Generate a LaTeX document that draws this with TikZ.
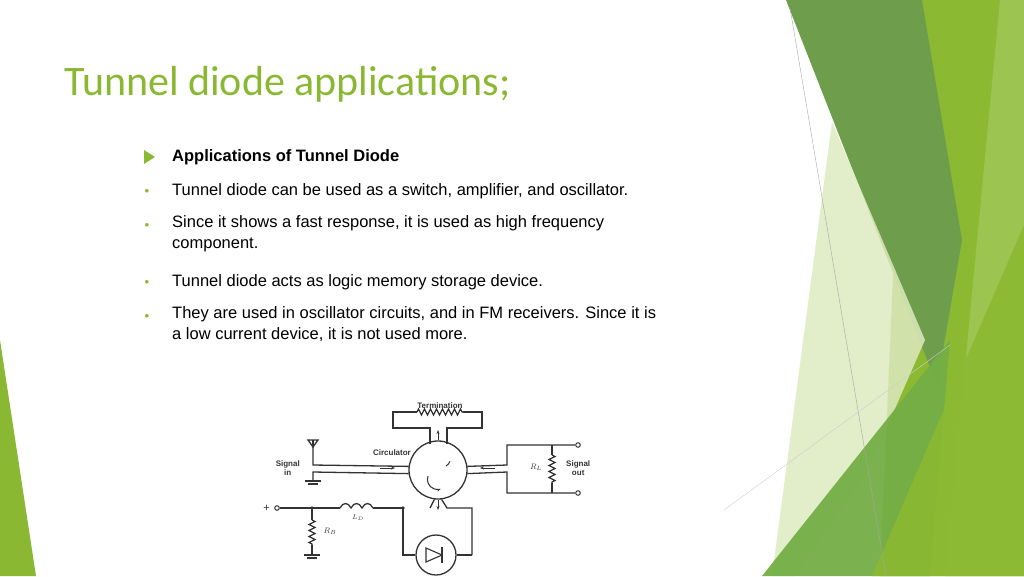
\documentclass[tikz,border=0pt]{standalone}
\usepackage{fontspec}
\setmainfont{Liberation Sans}
\newfontfamily\titlefont{Carlito}
\usetikzlibrary{arrows.meta,positioning,calc,decorations.pathmorphing}

\definecolor{titlegreen}{HTML}{8AB833}
\definecolor{darkband}{HTML}{6E9E4C}
\definecolor{brightband}{HTML}{8BBA32}
\definecolor{paleband}{HTML}{DDEABF}
\definecolor{midband}{HTML}{74AE46}
\definecolor{wire}{HTML}{333333}

\begin{document}
\begin{tikzpicture}[x=1pt, y=-1pt,
  txt/.style={anchor=west, inner sep=0pt, font=\fontsize{16.5}{21}\selectfont, align=left},
  bull/.style={anchor=center, inner sep=0pt, font=\fontsize{9}{9}\selectfont, text=titlegreen},
  lbl/.style={inner sep=0pt, font=\fontsize{8}{9}\selectfont\bfseries, text=wire, align=center},
  w/.style={draw=wire, line width=1.3pt},
  res/.style={w, decorate, decoration={zigzag, amplitude=3pt, segment length=6pt}},
  term/.style={draw=wire, fill=white, circle, line width=1pt, inner sep=1.6pt},
  arr/.style={-{Stealth[length=4pt]}, draw=wire, line width=1pt}
]
\useasboundingbox (0,0) rectangle (1024,576);

% Background bands
\fill[titlegreen] (0,340) -- (36,576) -- (0,576) -- cycle;
\fill[brightband] (905,0) -- (1024,0) -- (1024,576) -- (880,576) -- cycle;
\fill[brightband!85!white] (1000,0) -- (1024,0) -- (1024,576) -- (945,576) -- cycle;
\fill[darkband] (786,0) -- (922,0) -- (962,240) -- (937,385) -- cycle;
\fill[paleband, opacity=0.85] (832,122) -- (925,340) -- (868,470) -- (795,576) -- (772,576) -- cycle;
\fill[midband, opacity=0.95] (950,340) -- (930,576) -- (762,576) -- cycle;
\fill[brightband, opacity=0.9] (1024,225) -- (1024,576) -- (872,576) -- cycle;
\draw[gray!70, line width=0.4pt] (790,8) -- (886,576);
\draw[gray!40, line width=0.4pt] (724,510) -- (950,345);

% Title and text
\node[anchor=base west, inner sep=0pt, text=titlegreen, font=\titlefont\fontsize{42}{44}\selectfont]
  (title) at (64,95) {Tunnel diode applications;};

\fill[titlegreen] (144,150) -- (155,157) -- (144,164) -- cycle;
\node[txt, font=\fontsize{16.5}{21}\selectfont\bfseries] (head) at (172,157) {Applications of Tunnel Diode};
\node[bull] (b1) at (147,191) {$\bullet$};
\node[txt] (t1) at (172,191) {Tunnel diode can be used as a switch, amplifier, and oscillator.};
\node[bull] (b2) at (147,225) {$\bullet$};
\node[txt, anchor=north west] (t2) at (172,215) {Since it shows a fast response, it is used as high frequency\\component.};
\node[bull] (b3) at (147,282) {$\bullet$};
\node[txt] (t3) at (172,282) {Tunnel diode acts as logic memory storage device.};
\node[bull] (b4) at (147,316) {$\bullet$};
\node[txt, anchor=north west] (t4) at (172,306) {They are used in oscillator circuits, and in FM receivers. Since it is\\a low current device, it is not used more.};

% Circulator
\node[draw=wire, line width=1.3pt, circle, minimum size=58pt] (circ) at (438,470) {};
\draw[arr] (428,476) arc (200:70:10);
\draw[wire, line width=1pt] (446,466) arc (60:20:9);
\node[lbl, left=6pt of circ.north west, yshift=-4pt] (clbl) {Circulator};

% Top arm and termination
\coordinate (tl) at (430,444);
\coordinate (tr) at (447,444);
\draw[w] (tl) -- (430,428) -- (393,428) -- (393,412) -- (417,412);
\draw[w] (tr) -- (447,428) -- (482,428) -- (482,412) -- (463,412);
\draw[res] (417,412) -- (463,412);
\node[lbl, above=3pt of {$(417,412)!0.5!(463,412)$}] (termlbl) {Termination};
\draw[arr] (438,440) -- (438,430);

% Left arm, antenna, ground
\coordinate (la) at (313,465);
\coordinate (lb) at (313,472);
\draw[w] (circ.173) -- (la) -- (313,447);
\draw[w] (308,440) -- (318,440) -- (313,447) -- cycle;
\draw[w] (313,440) -- (313,447);
\draw[w] (circ.187) -- (lb) -- (313,481);
\draw[w] (305,481) -- (321,481) (308,484) -- (318,484);
\node[lbl, anchor=east] (sin) at (300,468) {Signal\\in};
\draw[arr] (380,468) -- (395,468);

% Right arm, load
\coordinate (ra) at (507,465);
\coordinate (rb) at (507,472);
\node[term] (o1) at (578,445) {};
\node[term] (o2) at (578,493) {};
\draw[w] (circ.7) -- (ra) -- (507,445) -- (o1);
\draw[w] (circ.353) -- (rb) -- (507,493) -- (o2);
\draw[w] (552,445) -- (552,455);
\draw[res] (552,455) -- (552,483);
\draw[w] (552,483) -- (552,493);
\node[lbl, font=\fontsize{8}{9}\selectfont\itshape] (rl) at (536,467) {$R_L$};
\node[lbl, anchor=west] (sout) at (566,468) {Signal\\out};
\draw[arr] (495,468) -- (480,468);

% Bottom arm, diode
\coordinate (bl) at (430,508);
\coordinate (br) at (447,508);
\draw[w] (circ.263) -- (bl);
\draw[w] (circ.277) -- (br) -- (472,508) -- (472,555);
\draw[arr] (438,500) -- (438,510);
\node[draw=wire, line width=1.3pt, circle, minimum size=40pt] (diode) at (436,555) {};
\draw[w] (403,508) -- (403,555) -- (diode.west);
\draw[w] (472,555) -- (diode.east);
\draw[wire, line width=1.1pt] (426,548) -- (426,562) -- (442,555) -- cycle;
\draw[wire, line width=1.1pt] (442,547) -- (442,563);

% Bias network
\node[term] (plus) at (277,508) {};
\node[lbl, anchor=east, font=\fontsize{11}{11}\selectfont] (pl) at (270,508) {+};
\draw[w] (plus) -- (340,508);
\draw[w] (340,508) .. controls (343,502) and (348,502) .. (351,508)
  .. controls (354,502) and (359,502) .. (362,508)
  .. controls (365,502) and (370,502) .. (373,508);
\draw[w] (373,508) -- (403,508);
\fill[wire] (312,508) circle (1.8pt) (403,508) circle (1.8pt);
\node[lbl, font=\fontsize{7}{8}\selectfont\itshape] (ld) at (358,518) {$L_D$};
\draw[w] (312,508) -- (312,520);
\draw[res] (312,520) -- (312,545);
\draw[w] (312,545) -- (312,555);
\draw[w] (304,555) -- (320,555) (307,558) -- (317,558);
\node[lbl, font=\fontsize{8}{9}\selectfont\itshape] (rb) at (330,531) {$R_B$};
\end{tikzpicture}
\end{document}
